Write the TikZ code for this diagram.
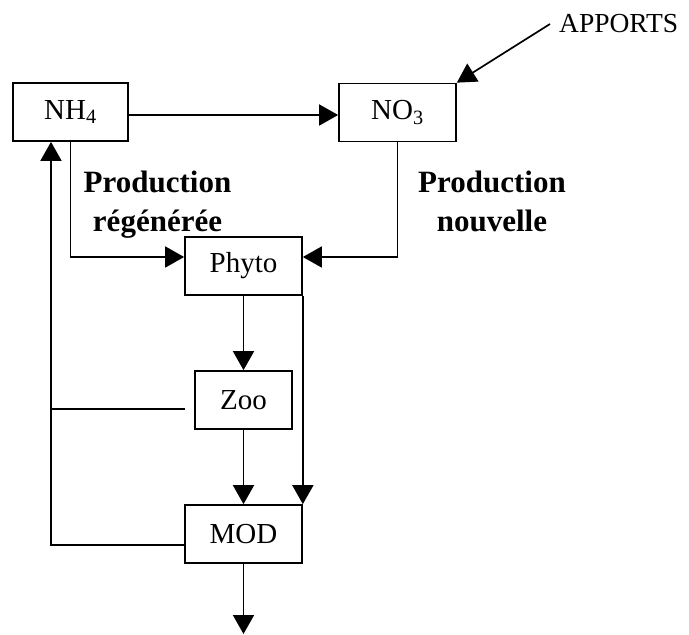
\documentclass[tikz,border=0pt]{standalone}
\usepackage{fontspec}
\setmainfont{Liberation Serif}
\usetikzlibrary{arrows.meta}
\tikzset{
 box/.style = {draw, line width=1.7pt, inner sep=0pt, minimum height=58pt,
   font=\fontsize{29}{34}\selectfont},
 flow/.style = {line width=1.7pt, -{Triangle[length=19pt,width=21pt]}},
 link/.style = {line width=1.7pt},
 lbl/.style = {align=center, font=\fontsize{31}{39}\selectfont\bfseries},
}

\begin{document}
\begin{tikzpicture}[x=1pt, y=-1pt]
    \useasboundingbox (0,0) rectangle (689,635);

    % compartments
    \node[box, minimum width=115pt] (nh4) at (70.5,112) {NH\textsubscript{4}};
    \node[box, minimum width=117pt] (no3) at (397.5,112.5) {NO\textsubscript{3}};
    \node[box, minimum width=117pt] (phyto) at (243.5,266) {Phyto};
    \node[box, minimum width=97pt] (zoo) at (243.5,400) {Zoo};
    \node[box, minimum width=117pt] (mod) at (243.5,534) {MOD};

    \node[anchor=west, inner sep=0pt, font=\fontsize{27.5}{32}\selectfont]
        (apports) at (559,24) {APPORTS};
    \node[lbl] (regen) at (157.5,205) {Production\\régénérée};
    \node[lbl] (nouv) at (492,201) {Production\\nouvelle};

    \coordinate (back) at ([xshift=-19.5pt]nh4.south);
    \coordinate (sink) at (243.5,634);
    \coordinate (zooout) at ([shift={(-9pt,-9pt)}]zoo.west);

    % nitrification and inputs
    \draw[flow] (nh4.east |- 0,115) -- (no3.west |- 0,115);
    \draw[flow] ([xshift=-9pt]apports.west) -- (no3.north east);

    % uptake by phyto
    \draw[flow] (nh4.south) |- ([yshift=9pt]phyto.west);
    \draw[flow] (no3.south) |- ([yshift=9pt]phyto.east);

    % food chain
    \draw[flow] (phyto.south) -- (zoo.north);
    \draw[flow] (zoo.south) -- (mod.north);
    \draw[flow] (phyto.south east) -- (mod.north east);
    \draw[flow] (mod.south) -- (sink);

    % regeneration back to NH4
    \draw[flow] ([yshift=-11pt]mod.west) -| (back);
    \draw[link] (zooout) -- (zooout -| back);
\end{tikzpicture}
\end{document}
